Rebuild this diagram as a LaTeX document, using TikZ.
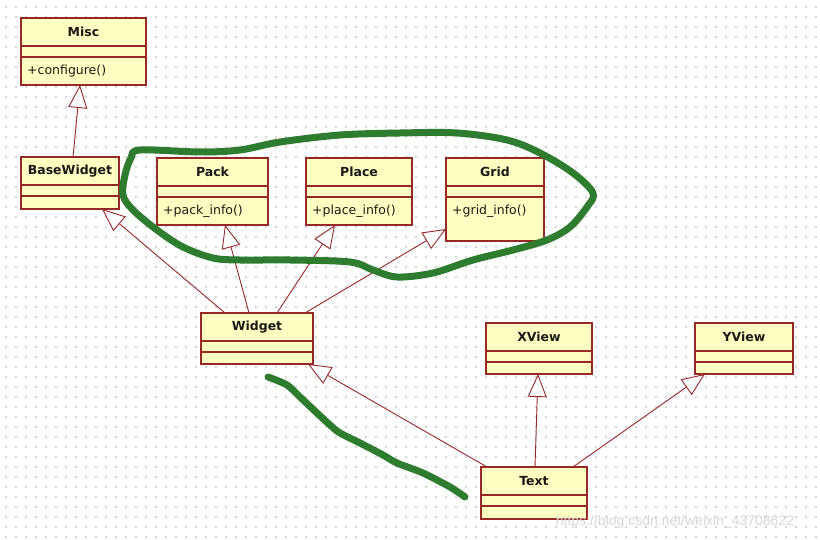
\documentclass[tikz,border=0pt]{standalone}
\usepackage{fontspec}
\setmainfont{DejaVu Sans}
\newfontfamily\wmfont{Liberation Sans}
\usetikzlibrary{arrows.meta,calc}
\definecolor{umlred}{RGB}{150,40,40}
\definecolor{umlfill}{RGB}{255,255,194}
\definecolor{penGreen}{RGB}{46,125,46}
\definecolor{dotgray}{RGB}{212,212,212}
\tikzset{
  classbox/.style={draw=umlred, fill=umlfill, line width=1.5pt, inner sep=0pt, outer sep=0pt},
  classline/.style={draw=umlred, line width=1.5pt},
  titletext/.style={font=\fontsize{12.5}{14}\selectfont\bfseries, inner sep=0pt, text=black!90},
  methtext/.style={font=\fontsize{12.5}{14}\selectfont, inner sep=0pt, text=black!90, anchor=west},
  inherit/.style={draw=umlred, line width=0.9pt, -{Triangle[open, length=23pt, width=19pt, fill=white]}},
  penstroke/.style={draw=penGreen, line width=7pt, line cap=round, line join=round},
}
\newcommand\umlbox[6]{% name, left, top, width, height, title
  \node[classbox, minimum width=#4pt, minimum height=#5pt, anchor=north west] (#1) at (#2,#3) {};
  \draw[classline] ([yshift=-28pt]#1.north west) -- ([yshift=-28pt]#1.north east);
  \draw[classline] ([yshift=-39pt]#1.north west) -- ([yshift=-39pt]#1.north east);
  \node[titletext] (#1-t) at ([yshift=-14pt]#1.north) {#6};
}
\newcommand\umlmeth[2]{% name, method
  \node[methtext] (#1-m) at ([xshift=6pt,yshift=-53pt]#1.north west) {#2};
}
\begin{document}
\begin{tikzpicture}[x=1pt,y=-1pt]
\useasboundingbox (0,0) rectangle (820,540);
\fill[white] (0,0) rectangle (820,540);
% dotted background grid
\foreach \yy in {7,17,...,537} {
  \draw[dotgray, line width=1.3pt, dash pattern=on 1.3pt off 8.7pt] (5.35,\yy) -- (820,\yy);
}
% classes
\umlbox{misc}{21}{18}{125}{67}{Misc}
\umlmeth{misc}{+configure()}
\umlbox{basewidget}{21}{157}{98}{52}{BaseWidget}
\umlbox{pack}{157}{158}{111}{67}{Pack}
\umlmeth{pack}{+pack\_info()}
\umlbox{place}{306}{158}{106}{67}{Place}
\umlmeth{place}{+place\_info()}
\umlbox{grid}{446}{158}{98}{83}{Grid}
\umlmeth{grid}{+grid\_info()}
\umlbox{widget}{201}{313}{112}{51}{Widget}
\umlbox{xview}{486}{323}{106}{51}{XView}
\umlbox{yview}{695}{323}{98}{51}{YView}
\umlbox{text}{481}{467}{106}{52}{Text}
% inheritance
\draw[inherit] ([xshift=52pt]basewidget.north west) -- ([xshift=59pt]misc.south west);
\draw[inherit] ([xshift=24pt]widget.north west) -- ([xshift=81pt]basewidget.south west);
\draw[inherit] ([xshift=48pt]widget.north west) -- ([xshift=68pt]pack.south west);
\draw[inherit] ([xshift=76pt]widget.north west) -- ([xshift=29pt]place.south west);
\draw[inherit] ([xshift=104pt]widget.north west) -- ([yshift=12pt]grid.south west);
\draw[inherit] ([xshift=6pt]text.north west) -- ([xshift=-5pt]widget.south east);
\draw[inherit] ([xshift=54pt]text.north west) -- ([xshift=52pt]xview.south west);
\draw[inherit] ([xshift=92pt]text.north west) -- ([xshift=10pt]yview.south west);
% green freehand marks
\draw[penstroke] plot[smooth cycle, tension=0.55] coordinates {
  (140,150) (200,152) (240,150) (280,142) (340,135) (400,133) (457,133) (507,140)
  (540,153) (573,173) (593,193) (587,207) (570,227) (547,240) (513,250) (473,260)
  (433,273) (397,277) (373,270) (350,262) (290,260) (240,260) (213,258) (183,247)
  (157,230) (133,210) (123,195) (125,175) (131,158)};
\draw[penstroke] plot[smooth, tension=0.5] coordinates {
  (268,377) (287,385) (300,397) (317,413) (330,425) (340,433) (360,443) (383,455)
  (397,463) (423,473) (450,487) (465,497)};
% watermark
\node[font=\wmfont\fontsize{14}{16}\selectfont, text=black!16, inner sep=0pt] (wm) at (675,522) {https://blog.csdn.net/weixin\_43708622};
\end{tikzpicture}
\end{document}
